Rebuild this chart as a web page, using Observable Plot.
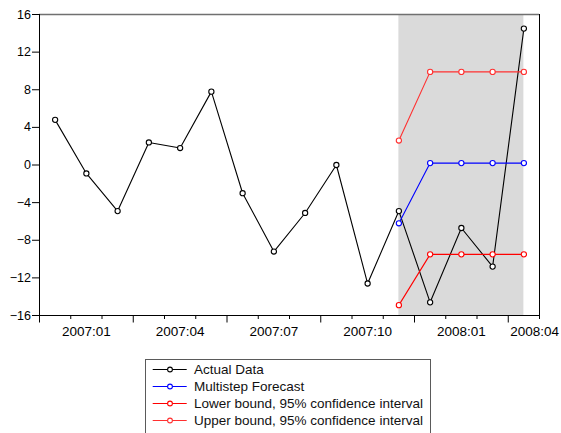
<!DOCTYPE html>
<html>
<head>
<meta charset="utf-8">
<script src="https://cdn.jsdelivr.net/npm/d3@7"></script>
<script src="https://cdn.jsdelivr.net/npm/@observablehq/plot@0.6"></script>
<style>
  html, body { margin: 0; padding: 0; background: #fff; overflow: hidden; }
  #chart { position: absolute; left: 0; top: 0; }
  #legend {
    position: absolute; left: 145px; top: 359px; width: 284px;
    border: 1px solid #5a5a5a; padding: 1px 0 10px 0; background: #fff;
    font-family: "Liberation Sans", Arial, sans-serif; font-size: 13.5px; color: #111;
  }
  #legend .row { display: flex; align-items: center; height: 17px; white-space: nowrap; }
  #legend svg { flex: none; }
</style>
</head>
<body>
<div id="chart"></div>
<div id="legend"></div>
<script>
// Monthly observations, 2006:12 – 2008:03
const months = ["2006:12","2007:01","2007:02","2007:03","2007:04","2007:05","2007:06","2007:07",
                "2007:08","2007:09","2007:10","2007:11","2007:12","2008:01","2008:02","2008:03"];
const actual = [4.8, -0.9, -4.9, 2.4, 1.8, 7.8, -3.0, -9.2, -5.1, 0.0, -12.6, -4.9, -14.6, -6.7, -10.8, 14.5];

// Forecast sample, 2007:11 – 2008:03
const forecastMonths = ["2007:11","2007:12","2008:01","2008:02","2008:03"];
const forecast   = [-6.2, 0.2, 0.2, 0.2, 0.2];
const lowerBound = [-14.9, -9.5, -9.5, -9.5, -9.5];
const upperBound = [2.6, 9.9, 9.9, 9.9, 9.9];

const xTickLabels = ["2007:01","2007:04","2007:07","2007:10","2008:01","2008:04"];
const yTicks = [-16, -12, -8, -4, 0, 4, 8, 12, 16];

// month label -> position on the x axis (2006:12 = 0)
const monthIndex = s => { const [y, m] = s.split(":").map(Number); return (y - 2006) * 12 + m - 12; };

const series = [
  {name: "Actual Data", color: "#000000", months: months, values: actual},
  {name: "Multistep Forecast", color: "#0000ff", months: forecastMonths, values: forecast},
  {name: "Lower bound, 95% confidence interval", color: "#ff0000", months: forecastMonths, values: lowerBound},
  {name: "Upper bound, 95% confidence interval", color: "#ff3030", months: forecastMonths, values: upperBound}
];

const xMin = -0.5, xMax = months.length - 0.5;
const boundaries = d3.range(months.length + 1).map(i => i - 0.5);
const majorBoundaries = boundaries.filter(b => (b + 0.5) % 3 === 0);
const minorBoundaries = boundaries.filter(b => !majorBoundaries.includes(b));
const labelPos = xTickLabels.map(monthIndex);
const labelText = new Map(xTickLabels.map(l => [monthIndex(l), l]));
const last = labelPos[labelPos.length - 1];

const seriesMarks = series.flatMap(s => {
  const rows = s.values.map((v, i) => ({x: monthIndex(s.months[i]), y: v}));
  return [
    Plot.line(rows, {x: "x", y: "y", stroke: s.color, strokeWidth: 1.1}),
    Plot.dot(rows, {x: "x", y: "y", r: 2.6, fill: "white", stroke: s.color, strokeWidth: 1.1})
  ];
});

const axisFont = {fontFamily: "'Liberation Sans', Arial, sans-serif", fontSize: 13.5, label: null};

const chart = Plot.plot({
  width: 561, height: 345,
  marginTop: 14, marginBottom: 30, marginLeft: 39, marginRight: 22,
  x: {domain: [xMin, xMax], label: null},
  y: {domain: [-16, 16], label: null},
  style: {background: "white", color: "black", fontFamily: "'Liberation Sans', Arial, sans-serif"},
  marks: [
    // forecast sample shading
    Plot.rect([{}], {x1: monthIndex(forecastMonths[0]), x2: monthIndex(forecastMonths[forecastMonths.length - 1]), fill: "#dadada"}),
    // frame
    Plot.ruleY([16], {stroke: "#707070", strokeWidth: 1.6}),
    Plot.ruleX([xMax], {stroke: "black", strokeWidth: 1}),
    Plot.ruleX([xMin], {stroke: "black", strokeWidth: 1}),
    Plot.ruleY([-16], {stroke: "black", strokeWidth: 1}),
    // y axis
    Plot.axisY(yTicks, {tickSize: 7, tickPadding: 1.5, label: null,
      fontFamily: "'Liberation Sans Narrow', 'Liberation Sans', Arial, sans-serif", fontSize: 12.5}),
    // x axis: month boundary ticks
    Plot.axisX(minorBoundaries, {tickSize: 4, tickFormat: () => "", label: null}),
    Plot.axisX(majorBoundaries, {tickSize: 7.5, tickFormat: () => "", label: null}),
    Plot.axisX(labelPos.slice(0, -1), {tickSize: 0, tickPadding: 11, tickFormat: d => labelText.get(d), ...axisFont}),
    Plot.axisX([last], {tickSize: 0, tickPadding: 11, textAnchor: "end", dx: 4, tickFormat: d => labelText.get(d), ...axisFont}),
    ...seriesMarks
  ]
});
document.getElementById("chart").appendChild(chart);

// legend
const legend = d3.select("#legend");
for (const s of series) {
  const row = legend.append("div").attr("class", "row");
  const sw = row.append("svg").attr("width", 48).attr("height", 17);
  sw.append("line").attr("x1", 6.7).attr("x2", 40.7).attr("y1", 8.5).attr("y2", 8.5)
    .attr("stroke", s.color).attr("stroke-width", 1.2);
  sw.append("circle").attr("cx", 24).attr("cy", 8.5).attr("r", 2.4)
    .attr("fill", "white").attr("stroke", s.color).attr("stroke-width", 1.1);
  row.append("span").text(s.name);
}
</script>
</body>
</html>
